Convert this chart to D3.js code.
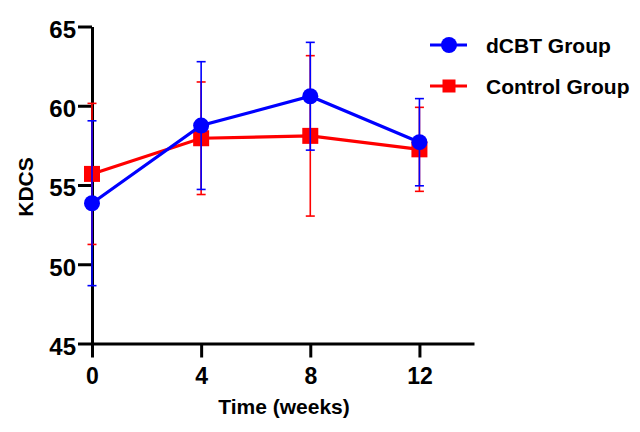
<!DOCTYPE html>
<html>
<head>
<meta charset="utf-8">
<script src="https://cdn.jsdelivr.net/npm/d3@7"></script>
<style>
  body { margin: 0; background: #fff; }
  text { font-family: "Liberation Sans", Arial, sans-serif; font-weight: bold; }
</style>
</head>
<body>
<div id="chart"></div>
<script>
// data
const weeks = [0, 4, 8, 12];
const dcbtMean = [53.85, 58.75, 60.6, 57.7];
const dcbtErr = [5.2, 4.03, 3.4, 2.75];
const ctrlMean = [55.7, 57.95, 58.1, 57.25];
const ctrlErr = [4.45, 3.55, 5.06, 2.65];
const yTicks = [45, 50, 55, 60, 65];
const xTicks = [0, 4, 8, 12];

const width = 640, height = 432;
const margin = { top: 26.5, bottom: 88.5, left: 92, right: 166 };

const svg = d3.select('#chart').append('svg')
  .attr('width', width)
  .attr('height', height);

const x = d3.scaleLinear().domain([0, 14]).range([margin.left, width - margin.right]);
const y = d3.scaleLinear().domain([45, 65]).range([height - margin.bottom, margin.top]);

// axes
function yAxis(g) {
  g.attr('transform', `translate(${margin.left},0)`)
    .call(d3.axisLeft(y).tickValues(yTicks).tickSize(14).tickPadding(2).tickSizeOuter(0))
    .attr('font-size', '24px');
  g.select('.domain').attr('stroke-width', 3);
  g.selectAll('.tick line').attr('stroke-width', 3);
  g.selectAll('text').attr('fill', '#000').attr('dy', '0.45em');
}
function xAxis(g) {
  g.attr('transform', `translate(0,${y(45)})`)
    .call(d3.axisBottom(x).tickValues(xTicks).tickSize(14).tickPadding(10).tickSizeOuter(0))
    .attr('font-size', '23px');
  g.select('.domain').attr('stroke-width', 3);
  g.selectAll('.tick line').attr('stroke-width', 3);
  g.selectAll('text').attr('fill', '#000');
}
svg.append('g').call(xAxis);
svg.append('g').call(yAxis);

svg.append('text')
  .attr('transform', `translate(33,${y(55) + 2}) rotate(-90)`)
  .attr('text-anchor', 'middle')
  .attr('font-size', '21px')
  .text('KDCS');
svg.append('text')
  .attr('x', x(7) + 1).attr('y', 414)
  .attr('text-anchor', 'middle')
  .attr('font-size', '21px')
  .text('Time (weeks)');

const series = [
  { name: 'dCBT Group', mean: dcbtMean, err: dcbtErr, color: '#0000ff', shape: 'circle' },
  { name: 'Control Group', mean: ctrlMean, err: ctrlErr, color: '#ff0000', shape: 'square' }
];

const line = d3.line().x(d => x(d[0])).y(d => y(d[1]));

// draw control first so dCBT sits on top
series.slice().reverse().forEach(s => {
  const pts = weeks.map((w, i) => [w, s.mean[i], s.err[i]]);
  const g = svg.append('g');
  // error bars
  g.selectAll('line.eb').data(pts).join('line')
    .attr('x1', d => x(d[0])).attr('x2', d => x(d[0]))
    .attr('y1', d => y(d[1] - d[2])).attr('y2', d => y(d[1] + d[2]))
    .attr('stroke', s.color).attr('stroke-width', 1.6);
  [-1, 1].forEach(sign => {
    g.selectAll(null).data(pts).join('line')
      .attr('x1', d => x(d[0]) - 4.5).attr('x2', d => x(d[0]) + 4.5)
      .attr('y1', d => y(d[1] + sign * d[2])).attr('y2', d => y(d[1] + sign * d[2]))
      .attr('stroke', s.color).attr('stroke-width', 1.6);
  });
  g.append('path').datum(pts)
    .attr('d', line).attr('fill', 'none')
    .attr('stroke', s.color).attr('stroke-width', 3.2);
  if (s.shape === 'circle') {
    g.selectAll('circle').data(pts).join('circle')
      .attr('cx', d => x(d[0])).attr('cy', d => y(d[1])).attr('r', 8)
      .attr('fill', s.color);
  } else {
    g.selectAll('rect').data(pts).join('rect')
      .attr('x', d => x(d[0]) - 8).attr('y', d => y(d[1]) - 8)
      .attr('width', 16).attr('height', 16)
      .attr('fill', s.color);
  }
});

// legend
const legend = svg.append('g');
series.forEach((s, i) => {
  const ly = 45 + i * 41;
  legend.append('line')
    .attr('x1', 430).attr('x2', 467).attr('y1', ly).attr('y2', ly)
    .attr('stroke', s.color).attr('stroke-width', 3.2);
  if (s.shape === 'circle') {
    legend.append('circle').attr('cx', 449).attr('cy', ly).attr('r', 8).attr('fill', s.color);
  } else {
    legend.append('rect').attr('x', 442.5).attr('y', ly - 6.5).attr('width', 13).attr('height', 13).attr('fill', s.color);
  }
  legend.append('text')
    .attr('x', 486).attr('y', ly).attr('dy', '0.36em')
    .attr('font-size', '21px')
    .text(s.name);
});
</script>
</body>
</html>
